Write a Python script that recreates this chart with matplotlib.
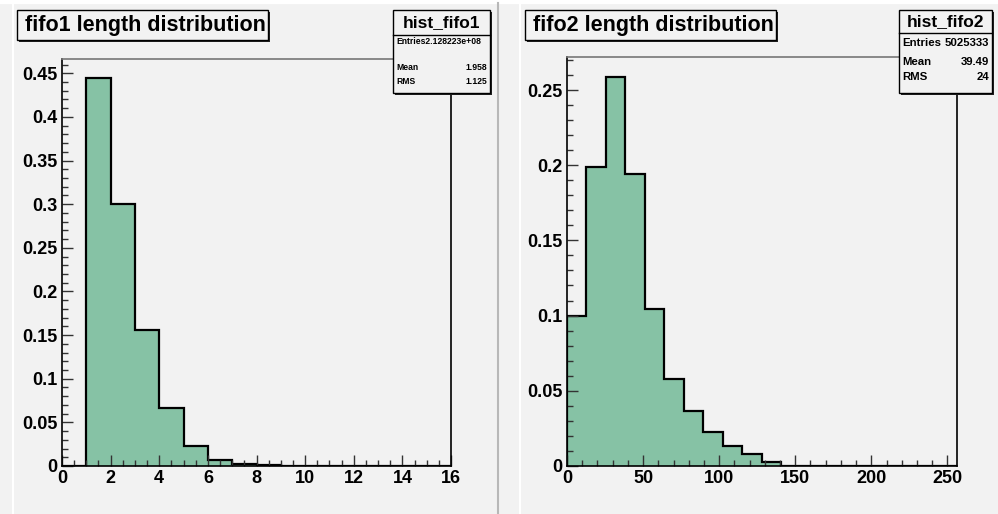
import matplotlib
matplotlib.use("Agg")
import matplotlib.pyplot as plt
from matplotlib.patches import Rectangle
from matplotlib.lines import Line2D
from matplotlib.ticker import MultipleLocator, FormatStrFormatter
import numpy as np

# fifo1: 16 bins over [0, 16]
fifo1_edges = np.linspace(0, 16, 17)
fifo1_vals = [0.0, 0.4442, 0.3006, 0.1558, 0.0665, 0.0229, 0.0069, 0.0020,
              0.0008, 0.0, 0.0, 0.0, 0.0, 0.0, 0.0, 0.0]

# fifo2: 20 bins over [0, 256]
fifo2_edges = np.linspace(0, 256, 21)
fifo2_vals = [0.0998, 0.1991, 0.2590, 0.1943, 0.1045, 0.0576, 0.0365, 0.0227,
              0.0133, 0.0076, 0.0023, 0.0, 0.0, 0.0, 0.0, 0.0, 0.0, 0.0, 0.0, 0.0]

titles = ["fifo1 length distribution", "fifo2 length distribution"]
stat_names = ["hist_fifo1", "hist_fifo2"]
stat_entries = ["2.128223e+08", "5025333"]
stat_mean = ["1.958", "39.49"]
stat_rms = ["1.125", "24"]

W, H = 998, 514
BG = "#f2f2f2"
FILL = "#86c2a5"
FONT = "Liberation Sans"

plt.rcParams["font.family"] = [FONT, "DejaVu Sans"]
plt.rcParams["font.weight"] = "bold"

fig = plt.figure(figsize=(W / 100, H / 100), dpi=100, facecolor=BG)


def fx(px):
    return px / W


def fy(py):
    return 1 - py / H


def rect(x0, y0, x1, y1, **kw):
    fig.add_artist(Rectangle((fx(x0), fy(y1)), fx(x1) - fx(x0), fy(y0) - fy(y1),
                             transform=fig.transFigure, **kw))


def hline(x0, x1, y, **kw):
    fig.add_artist(Line2D([fx(x0), fx(x1)], [fy(y), fy(y)], transform=fig.transFigure, **kw))


def vline(x, y0, y1, **kw):
    fig.add_artist(Line2D([fx(x), fx(x)], [fy(y0), fy(y1)], transform=fig.transFigure, **kw))


# canvas borders
hline(0, W, 2, color="white", lw=3)
vline(13, 3, H, color="white", lw=1.5)
vline(497.5, 3, H, color="#b8b8b8", lw=1.5)
vline(520, 3, H, color="white", lw=1.5)

panels = [
    dict(edges=fifo1_edges, vals=fifo1_vals, box=(62, 59, 451, 466), xmaj=2, xmin=0.5,
         title_x=17, stat=(393, 490, 35), rows=(42, 68, 82), row_fs=6.2),
    dict(edges=fifo2_edges, vals=fifo2_vals, box=(567, 57.3, 956.5, 465.7), xmaj=50, xmin=10,
         title_x=525, stat=(899, 992, 33), rows=(43, 62, 77), row_fs=8.2),
]

for i, p in enumerate(panels):
    x0, y0, x1, y1 = p["box"]
    ax = fig.add_axes([fx(x0), fy(y1), fx(x1) - fx(x0), fy(y0) - fy(y1)])
    ax.set_facecolor(BG)
    vals = np.array(p["vals"])
    ax.stairs(vals, p["edges"], fill=True, color=FILL, lw=0)
    ax.stairs(vals, p["edges"], color="black", lw=1.6)
    ax.set_xlim(p["edges"][0], p["edges"][-1])
    ax.set_ylim(0, vals.max() * 1.05)

    ax.xaxis.set_major_locator(MultipleLocator(p["xmaj"]))
    ax.xaxis.set_minor_locator(MultipleLocator(p["xmin"]))
    ax.yaxis.set_major_locator(MultipleLocator(0.05))
    ax.yaxis.set_minor_locator(MultipleLocator(0.01))
    ax.yaxis.set_major_formatter(FormatStrFormatter("%g"))
    ax.tick_params(which="both", direction="in", top=False, right=False, width=1, color="#333333")
    ax.tick_params(which="major", length=8, labelsize=13, pad=3)
    ax.tick_params(which="minor", length=4.3)
    for lab in ax.get_xticklabels() + ax.get_yticklabels():
        lab.set_fontweight("bold")
    for side in ["left", "bottom", "right"]:
        ax.spines[side].set_color("black")
        ax.spines[side].set_linewidth(1.2)
    ax.spines["top"].set_color("#777777")
    ax.spines["top"].set_linewidth(1.2)

    # title box with shadow
    tx = p["title_x"]
    rect(tx + 2, 12, tx + 253, 42, facecolor="#222222", edgecolor="none", zorder=5)
    rect(tx, 10, tx + 251, 40, facecolor=BG, edgecolor="black", lw=1, zorder=6)
    fig.text(fx(tx + 8), fy(25.5), titles[i], fontsize=15.5, fontweight="bold",
             va="center", ha="left", zorder=7)

    # stats box with shadow
    sx0, sx1, sh = p["stat"]
    rect(sx0 + 2, 12, sx1 + 2, 95, facecolor="#222222", edgecolor="none", zorder=5)
    rect(sx0, 10, sx1, 93, facecolor=BG, edgecolor="black", lw=1, zorder=6)
    hline(sx0, sx1, sh, color="black", lw=1, zorder=7)
    fig.text(fx((sx0 + sx1) / 2), fy((10 + sh) / 2 + 0.5), stat_names[i], fontsize=12.5,
             fontweight="bold", ha="center", va="center", zorder=7)
    r1, r2, r3 = p["rows"]
    fs = p["row_fs"]
    if i == 0:
        fig.text(fx(sx0 + 3), fy(r1), "Entries" + stat_entries[i], fontsize=fs,
                 fontweight="bold", ha="left", va="center", zorder=7)
    else:
        fig.text(fx(sx0 + 3), fy(r1), "Entries", fontsize=fs, fontweight="bold",
                 ha="left", va="center", zorder=7)
        fig.text(fx(sx1 - 3), fy(r1), stat_entries[i], fontsize=fs, fontweight="bold",
                 ha="right", va="center", zorder=7)
    fig.text(fx(sx0 + 3), fy(r2), "Mean", fontsize=fs, fontweight="bold", ha="left", va="center", zorder=7)
    fig.text(fx(sx1 - 3), fy(r2), stat_mean[i], fontsize=fs, fontweight="bold", ha="right", va="center", zorder=7)
    fig.text(fx(sx0 + 3), fy(r3), "RMS", fontsize=fs, fontweight="bold", ha="left", va="center", zorder=7)
    fig.text(fx(sx1 - 3), fy(r3), stat_rms[i], fontsize=fs, fontweight="bold", ha="right", va="center", zorder=7)

fig.savefig("out.png", dpi=100, facecolor=BG)
